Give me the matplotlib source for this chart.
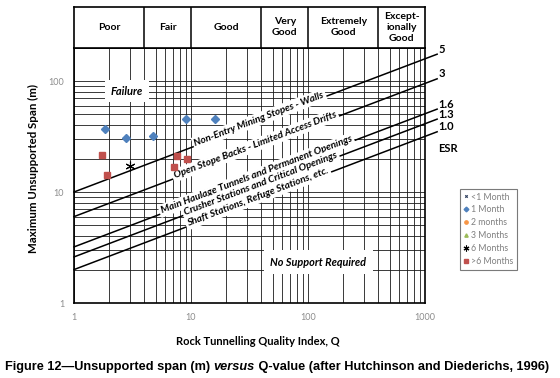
import numpy as np
import matplotlib
matplotlib.use('Agg')
import matplotlib.pyplot as plt
import matplotlib.transforms as mtransforms
from matplotlib import font_manager, ticker

# --- data ---
ESR_VALUES = [5, 3, 1.6, 1.3, 1.0]
ESR_LABELS = ['5', '3', '1.6', '1.3', '1.0']
ZONE_LABELS = ['Non-Entry Mining Stopes - Walls',
               'Open Stope Backs - Limited Access Drifts',
               'Main Haulage Tunnels and Permanent Openings',
               'Crusher Stations and Critical Openings',
               'Shaft Stations, Refuge Stations, etc.']
CLASS_NAMES = ['Poor', 'Fair', 'Good', 'Very\nGood', 'Extremely\nGood',
               'Except-\nionally\nGood']
CLASS_EDGES = [1, 4, 10, 40, 100, 400, 1000]

one_month_q = [1.85, 2.77, 4.76, 9.1, 16.0]
one_month_span = [36.7, 30.5, 32.1, 45.2, 45.6]
six_month_q = [3.0]
six_month_span = [17.1]
over_six_q = [1.75, 1.90, 7.55, 9.2, 7.2]
over_six_span = [21.5, 14.2, 21.2, 19.8, 16.7]

names = {f.name for f in font_manager.fontManager.ttflist}
CAP_FONT = 'Liberation Sans Narrow' if 'Liberation Sans Narrow' in names else 'Liberation Sans'
plt.rcParams['font.family'] = ['Lato', 'DejaVu Sans']

fig = plt.figure(figsize=(5.6, 3.78), dpi=100)
ax = fig.add_axes([0.1321, 0.1984, 0.6268, 0.6757])
ax.set_xscale('log')
ax.set_yscale('log')
ax.set_xlim(1, 1000)
ax.set_ylim(1, 200)
ax.grid(True, which='both', color='#1a1a1a', lw=0.6)
ax.xaxis.set_major_formatter(ticker.FuncFormatter(lambda v, p: f'{v:g}'))
ax.yaxis.set_major_formatter(ticker.FuncFormatter(lambda v, p: f'{v:g}'))
ax.xaxis.set_minor_formatter(ticker.NullFormatter())
ax.yaxis.set_minor_formatter(ticker.NullFormatter())
ax.tick_params(which='both', length=0, labelsize=6.5, labelcolor='#8c8c8c', pad=7)
for s in ax.spines.values():
    s.set_linewidth(1.2)
ax.set_xlabel('Rock Tunnelling Quality Index, Q', fontsize=8, fontweight='bold')
ax.set_ylabel('Maximum Unsupported Span (m)', fontsize=8.3, fontweight='bold')
ax.xaxis.set_label_coords(0.525, -0.129)
ax.yaxis.set_label_coords(-0.10, 0.527)

# slope of the design lines on screen
w_px = 0.6268 * 560
h_px = 0.6757 * 378
angle = np.degrees(np.arctan(0.4 * (h_px / np.log10(200)) / (w_px / 3)))
a = np.radians(angle)

q_line = np.logspace(0, np.log10(1270), 200)
label_q = [39, 36, 37, 40, 38]
for esr, lab, zone, lq in zip(ESR_VALUES, ESR_LABELS, ZONE_LABELS, label_q):
    span = 2 * esr * q_line ** 0.4
    ax.plot(q_line, span, color='black', lw=1.1, zorder=2, clip_on=False)
    q_end = q_line[-1]
    ax.annotate(lab, xy=(q_end, 2 * esr * q_end ** 0.4), xytext=(1, 3.5),
                textcoords='offset points', ha='left', va='center',
                fontsize=8, fontweight='bold', annotation_clip=False)
    off = mtransforms.offset_copy(ax.transData, fig=fig, x=-np.sin(a) * 2.5,
                                  y=np.cos(a) * 2.5, units='dots')
    ax.text(lq, 2 * esr * lq ** 0.4, zone, transform=off, rotation=angle,
            rotation_mode='anchor', ha='center', va='center', fontsize=7.2,
            fontweight='bold', style='italic', zorder=3,
            bbox=dict(boxstyle='square,pad=0.2', fc='white', ec='none'))

ax.annotate('ESR', xy=(1270, 2 * 1.0 * 1270 ** 0.4), xytext=(1, -12),
            textcoords='offset points', ha='left', va='center',
            fontsize=8, fontweight='bold', annotation_clip=False)

ax.text(2.84, 81, 'Failure', ha='center', va='center', fontsize=8,
        fontweight='bold', style='italic', zorder=3,
        bbox=dict(boxstyle='square,pad=0.5', fc='white', ec='none'))
ax.text(122, 2.34, 'No Support Required', ha='center', va='center', fontsize=7.8,
        fontweight='bold', style='italic', zorder=3,
        bbox=dict(boxstyle='square,pad=0.6', fc='white', ec='none'))

# data series
ax.plot([], [], ls='none', marker='x', ms=3, color='#2f3f5f', mew=0.8, label='<1 Month')
ax.plot(one_month_q, one_month_span, ls='none', marker='D', ms=4, color='#4f81bd',
        label='1 Month', zorder=4)
ax.plot([], [], ls='none', marker='o', ms=4, color='#f79646', label='2 months')
ax.plot([], [], ls='none', marker='^', ms=4, color='#9bbb59', label='3 Months')
ax.plot(six_month_q, six_month_span, ls='none', marker=(6, 2, 0), ms=7, color='black',
        mew=0.8, label='6 Months', zorder=4)
ax.plot(over_six_q, over_six_span, ls='none', marker='s', ms=5, color='#c0504d',
        label='>6 Months', zorder=4)

leg = fig.legend(loc='upper left', bbox_to_anchor=(460 / 560, 1 - 189 / 378),
                 fontsize=6.3, frameon=True, fancybox=False, markerscale=0.6,
                 handlelength=0.5, handletextpad=0.35, labelspacing=0.45,
                 borderpad=0.4, borderaxespad=0)
leg.get_frame().set_edgecolor('#595959')
leg.get_frame().set_linewidth(0.8)
for t in leg.get_texts():
    t.set_color('#7f7f7f')

# rock class header
axh = fig.add_axes([0.1321, 0.874, 0.6268, 0.1075])
axh.set_xscale('log')
axh.set_xlim(1, 1000)
axh.set_ylim(0, 1)
axh.set_xticks([])
axh.set_yticks([])
axh.minorticks_off()
for s in axh.spines.values():
    s.set_linewidth(1.2)
for lo, hi, name in zip(CLASS_EDGES[:-1], CLASS_EDGES[1:], CLASS_NAMES):
    if lo > 1:
        axh.axvline(lo, color='black', lw=1.1)
    axh.text(np.sqrt(lo * hi), 0.5, name, ha='center', va='center', fontsize=7.5,
             fontweight='bold', linespacing=1.25)

# caption with italic "versus", fitted to the reference width
parts = [('Figure 12\u2014Unsupported span (m) ', 'normal'), ('versus', 'italic'),
         (' Q-value (after Hutchinson and Diederichs, 1996)', 'normal')]
renderer = fig.canvas.get_renderer()


def draw_caption(size):
    texts = []
    x = 5
    for txt, st in parts:
        t = fig.text(x / 560, 1 - 370 / 378, txt, ha='left', va='baseline',
                     fontsize=size, fontweight='bold', style=st, family=CAP_FONT)
        x = t.get_window_extent(renderer).x1
        texts.append(t)
    return texts, x


cap, right = draw_caption(11)
size = 11 * (553 - 5) / (right - 5)
for t in cap:
    t.remove()
draw_caption(size)

fig.savefig('out.png', dpi=100)
